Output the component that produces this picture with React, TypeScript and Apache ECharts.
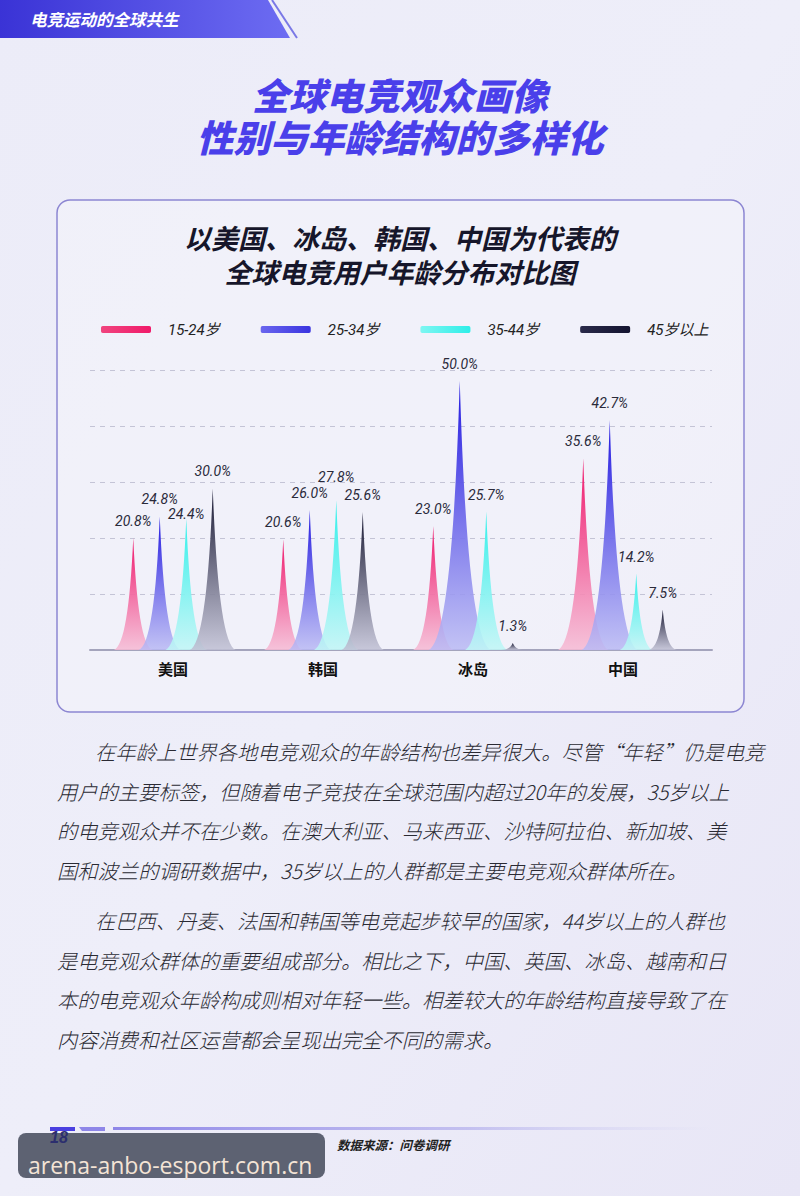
import React, { useEffect, useRef } from "react";
import * as echarts from "echarts";

const categories = ["美国", "韩国", "冰岛", "中国"];
const ageGroups = ["15-24岁", "25-34岁", "35-44岁", "45岁以上"];
const age15to24 = [20.8, 20.6, 23.0, 35.6];
const age25to34 = [24.8, 26.0, 50.0, 42.7];
const age35to44 = [24.4, 27.8, 25.7, 14.2];
const age45plus = [30.0, 25.6, 1.3, 7.5];
const seriesValues = [age15to24, age25to34, age35to44, age45plus];

const titleLines = ["全球电竞观众画像", "性别与年龄结构的多样化"];
const chartTitleLines = ["以美国、冰岛、韩国、中国为代表的", "全球电竞用户年龄分布对比图"];

const topColors = ["#ef1469", "#2016e0", "#2ef0ea", "#15152f"];
const bottomColors = ["rgba(246,186,212,0.85)", "rgba(186,186,244,0.85)", "rgba(192,246,246,0.85)", "rgba(192,192,212,0.85)"];
const legendColors = [["#f0447e", "#f01a6a"], ["#6a66ee", "#3a34e0"], ["#7ef6f2", "#2eeee8"], ["#2a2a4a", "#141430"]];

const paragraph1 = [
  "在年龄上世界各地电竞观众的年龄结构也差异很大。尽管“年轻”仍是电竞",
  "用户的主要标签，但随着电子竞技在全球范围内超过20年的发展，35岁以上",
  "的电竞观众并不在少数。在澳大利亚、马来西亚、沙特阿拉伯、新加坡、美",
  "国和波兰的调研数据中，35岁以上的人群都是主要电竞观众群体所在。",
];
const paragraph2 = [
  "在巴西、丹麦、法国和韩国等电竞起步较早的国家，44岁以上的人群也",
  "是电竞观众群体的重要组成部分。相比之下，中国、英国、冰岛、越南和日",
  "本的电竞观众年龄构成则相对年轻一些。相差较大的年龄结构直接导致了在",
  "内容消费和社区运营都会呈现出完全不同的需求。",
];

const SPIKE = "path://M0,100 C26,97 42,62 50,0 C58,62 74,97 100,100 Z";
const CJK = "'Noto Sans CJK SC', 'Noto Sans', sans-serif";
const TIGHT = "'Liberation Sans', 'Noto Sans CJK SC', sans-serif";
const NUM = "Roboto, 'Noto Sans CJK SC', sans-serif";

export default function App() {
  const ref = useRef<HTMLDivElement>(null);
  useEffect(() => {
    const chart = echarts.init(ref.current!, null, { renderer: "svg" });

    const labelShift = (i: number, j: number) => {
      if (i === 2 && j === 0) return { offset: [0, 12] };
      if (i === 2 && j === 1) return { offset: [0, -6] };
      return undefined;
    };

    const series = seriesValues.map((vals, i) => ({
      type: "pictorialBar",
      name: ageGroups[i],
      xAxisIndex: 0,
      yAxisIndex: 1,
      barWidth: 26.5,
      barGap: "0%",
      symbol: SPIKE,
      z: 3 + i,
      itemStyle: {
        color: new echarts.graphic.LinearGradient(0, 0, 0, 1, [
          { offset: 0, color: topColors[i] },
          { offset: 1, color: bottomColors[i] },
        ]),
      },
      label: {
        show: true,
        position: "top",
        distance: 10,
        formatter: (p: any) => Number(p.value).toFixed(1) + "%",
        color: "#2a2a3a",
        fontSize: 14,
        fontStyle: "italic",
        fontFamily: NUM,
      },
      data: vals.map((v, j) => ({
        value: v,
        symbolSize: [22 + 0.8 * v, "100%"],
        label: labelShift(i, j),
      })),
    }));

    const bodyLines: any[] = [];
    const addPara = (lines: string[], y0: number) => {
      lines.forEach((t, k) => {
        bodyLines.push({
          type: "text",
          left: k === 0 ? 95 : 57,
          top: y0 + k * 39.5 - 12,
          style: { text: t, fontSize: 20.3, fontWeight: 300, fontFamily: CJK, fontStyle: "italic", fill: "#2a2a33" },
        });
      });
    };
    addPara(paragraph1, 753);
    addPara(paragraph2, 922);

    const titles = titleLines.map((t, k) => ({
      type: "text",
      x: 400,
      y: 97 + k * 42,
      style: {
        text: t,
        fontSize: 37,
        fontWeight: 900,
        fontFamily: TIGHT,
        fontStyle: "italic",
        align: "center",
        verticalAlign: "middle",
        fill: "#4a3fea",
      },
    }));
    const chartTitles = chartTitleLines.map((t, k) => ({
      type: "text",
      x: 400,
      y: 240 + k * 34,
      style: {
        text: t,
        fontSize: 27,
        fontWeight: "bold",
        fontFamily: TIGHT,
        fontStyle: "italic",
        align: "center",
        verticalAlign: "middle",
        fill: "#16162a",
      },
    }));

    chart.setOption({
      animation: false,
      legend: {
        left: 96,
        top: 317,
        icon: "roundRect",
        itemWidth: 50,
        itemHeight: 7,
        itemGap: 41,
        data: ageGroups.map((n, i) => ({
          name: n,
          itemStyle: {
            color: new echarts.graphic.LinearGradient(0, 0, 1, 0, [
              { offset: 0, color: legendColors[i][0] },
              { offset: 1, color: legendColors[i][1] },
            ]),
          },
        })),
        textStyle: { color: "#222", fontSize: 15, fontStyle: "italic", fontFamily: NUM, padding: [0, 0, 0, 12] },
      },
      grid: [
        { left: 90, width: 622, top: 370, height: 280 },
        { left: 98, width: 600, top: 370, height: 280 },
      ],
      xAxis: [
        {
          type: "category",
          gridIndex: 1,
          data: categories,
          axisLine: { show: false },
          axisTick: { show: false },
          axisLabel: { color: "#111", fontSize: 15, fontWeight: "bold", fontFamily: CJK, margin: 11 },
        },
        {
          type: "category",
          gridIndex: 0,
          data: [""],
          axisLine: { show: true, lineStyle: { color: "#a4a4bc", width: 2 } },
          axisTick: { show: false },
          axisLabel: { show: false },
        },
      ],
      yAxis: [
        {
          type: "value",
          gridIndex: 0,
          min: 0,
          max: 52,
          interval: 10.4,
          axisLabel: { show: false },
          axisLine: { show: false },
          axisTick: { show: false },
          splitLine: { show: true, lineStyle: { color: "#c4c4d6", type: [5, 5], width: 1 } },
        },
        {
          type: "value",
          gridIndex: 1,
          min: 0,
          max: 52,
          interval: 10.4,
          axisLabel: { show: false },
          axisLine: { show: false },
          axisTick: { show: false },
          splitLine: { show: false },
        },
      ],
      graphic: [
        {
          type: "rect",
          z: -10,
          shape: { x: 0, y: 0, width: 800, height: 1196 },
          style: {
            fill: new echarts.graphic.LinearGradient(0, 0, 1, 1, [
              { offset: 0, color: "#ececf8" },
              { offset: 0.5, color: "#eeeef9" },
              { offset: 1, color: "#e8e6f6" },
            ]),
          },
        },
        {
          type: "polygon",
          shape: { points: [[0, 0], [268, 0], [290, 38], [0, 38]] },
          style: {
            fill: new echarts.graphic.LinearGradient(0, 0, 1, 0, [
              { offset: 0, color: "#3a33d6" },
              { offset: 1, color: "#6d6cf2" },
            ]),
          },
        },
        { type: "line", shape: { x1: 272, y1: 0, x2: 297, y2: 38 }, style: { stroke: "#7a78e6", lineWidth: 2 } },
        {
          type: "text",
          x: 30,
          y: 19,
          style: { text: "电竞运动的全球共生", fontSize: 16.5, fontWeight: "bold", fontFamily: CJK, fill: "#ffffff", fontStyle: "italic", verticalAlign: "middle" },
        },
        ...titles,
        {
          type: "rect",
          z: -5,
          shape: { x: 57, y: 200, width: 687, height: 512, r: 13 },
          style: { fill: "rgba(255,255,255,0.22)", stroke: "#8c86d2", lineWidth: 1.5 },
        },
        ...chartTitles,
        ...bodyLines,
        { type: "rect", shape: { x: 50, y: 1127, width: 25, height: 4 }, style: { fill: "#4a3fe0" } },
        { type: "polygon", shape: { points: [[79, 1127], [105, 1127], [105, 1131], [82, 1131]] }, style: { fill: "#8e86e8" } },
        {
          type: "rect",
          shape: { x: 113, y: 1127, width: 600, height: 3 },
          style: {
            fill: new echarts.graphic.LinearGradient(0, 0, 1, 0, [
              { offset: 0, color: "#8e86e8" },
              { offset: 0.6, color: "rgba(170,165,235,0.6)" },
              { offset: 1, color: "rgba(200,200,240,0)" },
            ]),
          },
        },
        {
          type: "rect",
          shape: { x: 18, y: 1133, width: 307, height: 45, r: 8 },
          style: { fill: "rgba(86,92,108,0.96)" },
        },
        {
          type: "text",
          left: 50,
          top: 1129,
          style: { text: "18", fontSize: 16, fontStyle: "italic", fontWeight: "bold", fontFamily: "'Liberation Sans', sans-serif", fill: "#2c2e6e" },
        },
        {
          type: "text",
          left: 28,
          top: 1153,
          style: { text: "arena-anbo-esport.com.cn", fontSize: 23, fontFamily: "'Open Sans', 'DejaVu Sans', sans-serif", fill: "#f4e4d6" },
        },
        {
          type: "text",
          left: 337,
          top: 1138,
          style: { text: "数据来源：问卷调研", fontSize: 12.5, fontWeight: "bold", fontStyle: "italic", fontFamily: CJK, fill: "#222" },
        },
      ],
      series,
    });
    return () => chart.dispose();
  }, []);
  return <div ref={ref} style={{ position: "absolute", left: 0, top: 0, width: 800, height: 1196 }} />;
}
